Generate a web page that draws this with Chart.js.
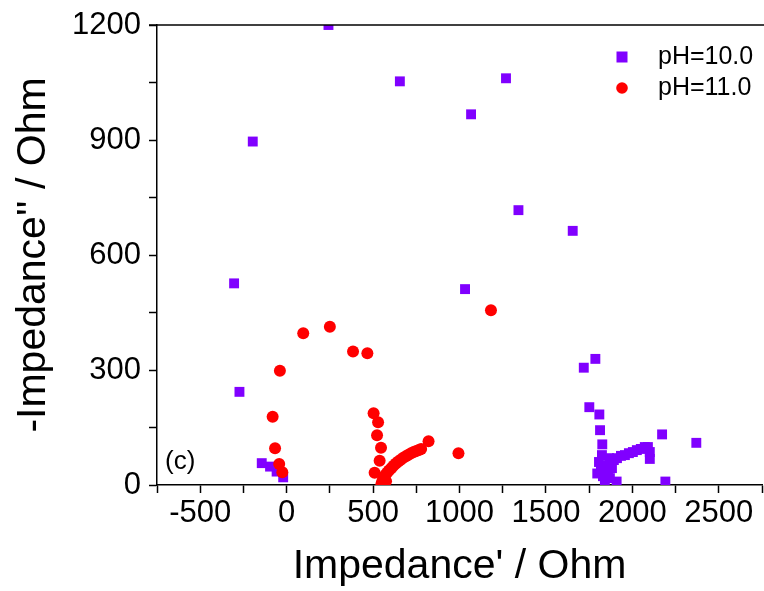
<!DOCTYPE html>
<html>
<head>
<meta charset="utf-8">
<script src="https://cdn.jsdelivr.net/npm/chart.js@4/dist/chart.umd.min.js"></script>
<style>
  html, body { margin: 0; padding: 0; background: #fff; overflow: hidden; }
  #wrap { width: 764px; height: 591px; overflow: hidden; }
</style>
</head>
<body>
<div id="wrap"><canvas id="eisChart" width="769" height="591"></canvas></div>
<script>
// series names
const seriesNames = ['pH=10.0', 'pH=11.0'];

// pH=10.0 (purple squares): Z' and -Z''
const ph10Re = [-304, -273, -196, -144, -96, -58, -20, 242, 655, 1032, 1067, 1269, 1341, 1655,
  1719, 1751, 1786, 1809, 1813, 1826, 1797, 1909, 2191, 2172, 2370,
  1824, 1865, 1807, 1847, 1818, 1859, 1830, 1870, 1841, 1882,
  1893, 1911, 1934, 1957, 1980, 2003, 2026, 2049, 2072, 2090, 2101, 2101];
const ph10Im = [526, 243, 896, 57, 48, 35, 20, 1200, 1053, 511, 967, 1061, 717, 663,
  306, 203, 329, 184, 143, 106, 30, 9, 9, 132, 110,
  78, 70, 60, 50, 39, 34, 23, 18, 13, 44,
  65, 70, 76, 78, 83, 86, 91, 94, 99, 99, 86, 68];

// pH=11.0 (red circles)
const ph11Re = [-81, -67, -43, -25, -39, 96, 250, 384, 467, 503, 529, 523, 546, 538, 509,
  548, 560, 575, 552, 557, 563, 571, 581, 592, 605, 618, 632, 646, 660, 675, 690, 705, 720,
  735, 750, 765, 778, 821, 994, 1182];
const ph11Im = [178, 96, 55, 33, 298, 396, 413, 348, 344, 187, 164, 130, 97, 63, 32,
  2, 4, 10, 8, 14, 20, 26, 32, 38, 44, 50, 56, 61, 66, 71, 75, 79, 83,
  86, 89, 91, 94, 114, 83, 456];

// tick labels shown (minor ticks in between carry no label)
const xTickLabels = [-500, 0, 500, 1000, 1500, 2000, 2500];
const yTickLabels = [0, 300, 600, 900, 1200];

const fontFamily = "'Liberation Sans', Arial, sans-serif";
const colors = ['#8000ff', '#ff0000'];

const extras = {
    id: 'extras',
    afterDraw(chart) {
        const { ctx, chartArea } = chart;
        ctx.save();
        // top frame line
        ctx.strokeStyle = '#000';
        ctx.lineWidth = 1.5;
        ctx.beginPath();
        ctx.moveTo(chartArea.left - 8, chartArea.top);
        ctx.lineTo(chart.width, chartArea.top);
        ctx.stroke();

        // panel label
        ctx.fillStyle = '#000';
        ctx.font = '26px ' + fontFamily;
        ctx.textBaseline = 'middle';
        ctx.textAlign = 'left';
        ctx.fillText('(c)', 165, 462);

        // legend
        const lx = 622, ly = [57, 88];
        ctx.font = '25px ' + fontFamily;
        ctx.fillStyle = colors[0];
        ctx.fillRect(lx - 5.5, ly[0] - 5.5, 11, 11);
        ctx.fillStyle = colors[1];
        ctx.beginPath();
        ctx.arc(lx, ly[1], 5.8, 0, Math.PI * 2);
        ctx.fill();
        ctx.fillStyle = '#000';
        ctx.fillText(seriesNames[0], 658, ly[0]);
        ctx.fillText(seriesNames[1], 658, ly[1]);
        ctx.restore();
    }
};

const ctx = document.getElementById('eisChart').getContext('2d');
const chart = new Chart(ctx, {
    type: 'scatter',
    data: {
        datasets: [
            {
                label: seriesNames[0],
                data: ph10Re.map((x, i) => ({ x: x, y: ph10Im[i] })),
                pointStyle: 'rect',
                pointRadius: 7,
                backgroundColor: colors[0],
                borderColor: colors[0],
                borderWidth: 0,
                clip: 0,
                order: 1
            },
            {
                label: seriesNames[1],
                data: ph11Re.map((x, i) => ({ x: x, y: ph11Im[i] })),
                pointStyle: 'circle',
                pointRadius: 6,
                backgroundColor: colors[1],
                borderColor: colors[1],
                borderWidth: 0,
                clip: 0,
                order: 0
            }
        ]
    },
    options: {
        responsive: false,
        animation: false,
        layout: { padding: { top: 25, right: 0, left: 0, bottom: 0 } },
        plugins: {
            legend: { display: false },
            tooltip: { enabled: false }
        },
        scales: {
            x: {
                type: 'linear',
                min: -750,
                max: 2750,
                ticks: {
                    stepSize: 250,
                    autoSkip: false,
                    maxRotation: 0,
                    padding: 2,
                    color: '#000',
                    font: { family: fontFamily, size: 31 },
                    callback: v => xTickLabels.includes(v) ? String(v) : ''
                },
                grid: { drawOnChartArea: false, tickLength: 8, color: '#000', tickWidth: 1.5 },
                border: { color: '#000', width: 1.5 },
                title: {
                    display: true,
                    text: "Impedance' / Ohm",
                    color: '#000',
                    padding: 0,
                    font: { family: fontFamily, size: 41 }
                },
                afterFit: s => { s.height = 106; s.paddingLeft = 0; s.paddingRight = 0; }
            },
            y: {
                type: 'linear',
                min: 0,
                max: 1200,
                ticks: {
                    stepSize: 150,
                    autoSkip: false,
                    padding: 8,
                    color: '#000',
                    font: { family: fontFamily, size: 31 },
                    callback: v => yTickLabels.includes(v) ? String(v) : ''
                },
                grid: { drawOnChartArea: false, tickLength: 8, color: '#000', tickWidth: 1.5 },
                border: { color: '#000', width: 1.5 },
                title: {
                    display: true,
                    text: "-Impedance'' / Ohm",
                    color: '#000',
                    padding: 9,
                    font: { family: fontFamily, size: 41 }
                },
                afterFit: s => { s.width = 157; s.paddingTop = 0; s.paddingBottom = 0; }
            }
        }
    },
    plugins: [extras]
});
</script>
</body>
</html>
